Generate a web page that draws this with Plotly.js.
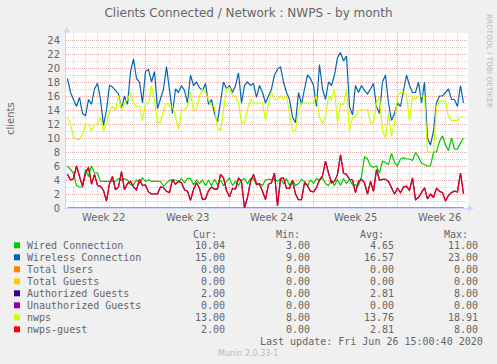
<!DOCTYPE html>
<html><head><meta charset="utf-8">
<script src="https://cdn.plot.ly/plotly-3.0.1.min.js"></script>
<style>html,body{margin:0;padding:0;background:#F0F0F0;}#chart{width:497px;height:364px;}</style>
</head><body><div id="chart"></div>
<script>
// ---- data (6-hour samples starting 2020-05-24 12:00) ----
const START_MS = Date.UTC(2020, 4, 24, 12, 0);
const STEP_MS = 6 * 3600 * 1000;

const wiredConnection = [
  6, 5.5, 5, 3.2, 3, 3, 5.5, 4.5, 6, 5,
  5, 3.8, 3.8, 3.8, 3.8, 3.8, 3.8, 4.2, 4, 4.2,
  4, 3.3, 3.3, 4, 3.5, 4.3, 3.8, 4, 3.8, 3.8,
  3.8, 3.8, 3.1, 3.5, 4, 4, 4, 3.8, 4.2, 3.6,
  4.2, 4.2, 3.3, 4, 3.5, 4, 3.2, 4, 3.2, 4.1,
  3.3, 4, 3.2, 3.8, 4.3, 3.2, 3.8, 3.2, 4, 4.2,
  3.5, 4.2, 4.2, 3.3, 3.5, 3.2, 4, 4.1, 4.1, 4.1,
  3.8, 4.2, 3.5, 4.2, 3.2, 4, 3.2, 3.5, 4.1, 3.8,
  3.2, 4, 3.5, 4.2, 4, 4.3, 3.5, 3.2, 4, 3.2,
  4.1, 3.2, 4.2, 3.5, 4.1, 3.3, 3.3, 3.2, 4.5, 7.3,
  7, 6, 5.8, 6, 5, 6.7, 6.5, 6.2, 7.8, 6.5,
  6, 7, 7.2, 7, 7, 6.8, 7.9, 7.3, 6.4, 6.2,
  6, 6, 8, 8, 9.5, 10.3, 9, 8.2, 10, 8.4,
  8.4, 9.3, 10
];
const wirelessConnection = [
  18.5, 16.5, 15.5, 14.5, 15.8, 13.5, 13.2, 15.5, 14.8, 17,
  17.8, 15.5, 11.8, 14, 17.5, 17.3, 16.8, 16.3, 14.2, 16,
  14.8, 19.5, 21.3, 18.5, 18, 15, 19.5, 19.8, 18, 19.5,
  14.2, 15.5, 17, 20.2, 16.5, 13.5, 17, 16.5, 17.5, 16.8,
  15, 19, 17.5, 18, 17.2, 16.8, 17.8, 14.8, 15.5, 13.5,
  12.3, 15.5, 18, 17, 17.5, 16.5, 17.5, 19.3, 15, 17.5,
  18, 17.5, 17.8, 15.8, 17.5, 16.5, 15, 16, 17, 19,
  19.8, 20.2, 18, 16.5, 15.5, 13, 12.2, 16.5, 14.8, 17,
  19, 18.5, 17.5, 14.5, 20.5, 17, 15.5, 18, 17.5, 19,
  21.5, 22.2, 21, 21.7, 14.5, 13.3, 17.5, 16.5, 17.5, 16.8,
  16.3, 17, 17.8, 14.5, 13.5, 18, 19, 15, 12.5, 13.5,
  15, 14.5, 17, 19, 17.5, 16.5, 16.5, 18, 15, 18,
  10, 9, 11, 15, 16, 16, 16.5, 17, 15.5, 15.5,
  14.5, 17.5, 15
];
const nwps = [
  13, 12, 10.2, 9.8, 9.8, 10.5, 12, 12, 11, 12,
  12, 13, 11, 12, 14, 14.5, 14, 16, 14, 15,
  15.5, 16.5, 15, 14.5, 14.5, 12.5, 15, 15, 17.5, 15.5,
  12.2, 12.2, 14, 15, 14.5, 14.5, 13, 11.2, 14, 14,
  14.5, 16.5, 14, 14.2, 16, 17, 16.5, 15.5, 14.5, 14.5,
  11.5, 11, 14, 17, 17.2, 16, 16, 15, 12.2, 12.2,
  14, 15.5, 15, 15, 15, 15, 12.5, 15, 16.5, 15.5,
  15.5, 16, 15.5, 16, 13.5, 11, 11, 14, 15, 15,
  15, 15, 15, 16, 13, 12, 13, 16, 15.5, 17,
  12.2, 14.8, 14.8, 17, 11, 13, 13, 14, 14, 14,
  14, 12.2, 12.2, 15, 16, 11, 10, 13.5, 10.2, 12,
  16, 16.5, 16.5, 16.2, 12.5, 15.8, 15.5, 16, 16, 16,
  8, 8, 8, 14.5, 15.3, 15.3, 15.3, 13, 12.5, 12.5,
  12.5, 13, 13
];
const nwpsGuest = [
  4.8, 4, 4.2, 6, 4.5, 3.1, 5, 5.8, 3.4, 4.8,
  3.2, 3.1, 2.5, 1, 3.5, 4.5, 2.6, 3, 5.2, 2.6,
  3.5, 3.8, 3, 2.6, 4.1, 3.2, 3.3, 2.3, 2, 2,
  2, 3, 2.9, 2.4, 2.2, 4.1, 3.4, 3.8, 3.6, 2.6,
  2.4, 1.1, 2.6, 3.6, 2.8, 1.2, 1.3, 2.5, 3, 2.7,
  2.7, 4.8, 4.3, 2.5, 1.6, 2.8, 2.7, 4.3, 3.8, 0,
  1.5, 3.8, 4.8, 3.4, 3.4, 2.4, 1.2, 3.4, 3.6, 5,
  0.3, 4.2, 4.3, 2.8, 2.8, 3.9, 2, 1.2, 1.2, 3.6,
  3.2, 2.4, 2.3, 2.9, 4, 4.6, 6.7, 5, 3.6, 3.8,
  4.8, 7.6, 5, 4.8, 4.1, 4, 2.2, 3.8, 4.1, 3.6,
  2, 3.8, 2.4, 5.5, 4, 4.1, 4.1, 3.8, 2.9, 2,
  2.8, 2.2, 3, 3.1, 2.5, 4.3, 1.2, 1.5, 2.2, 2.9,
  1.3, 2, 1.5, 2.8, 2.4, 2.2, 1, 1.8, 2.2, 2.4,
  2.3, 5, 2
];
const authorizedGuests = nwpsGuest;      // identical to nwps-guest (same stats)
const zeroSeries = [0, 0];               // Total Users, Total Guests, Unauthorized Guests

const seriesNames = ['Wired Connection', 'Wireless Connection', 'Total Users', 'Total Guests',
  'Authorized Guests', 'Unauthorized Guests', 'nwps', 'nwps-guest'];
const seriesColors = ['#00CC00', '#0066B3', '#FF8000', '#FFCC00', '#330099', '#990099', '#CCFF00', '#FF0000'];
const curValues = ['10.04', '15.00', '0.00', '0.00', '2.00', '0.00', '13.00', '2.00'];
const minValues = ['3.00', '9.00', '0.00', '0.00', '0.00', '0.00', '8.00', '0.00'];
const avgValues = ['4.65', '16.57', '0.00', '0.00', '2.81', '0.00', '13.76', '2.81'];
const maxValues = ['11.00', '23.00', '0.00', '0.00', '8.00', '0.00', '18.91', '8.00'];

const weekLabels = ['Week 22', 'Week 23', 'Week 24', 'Week 25', 'Week 26'];
const weekMid = ['2020-05-27 12:00', '2020-06-03 12:00', '2020-06-10 12:00', '2020-06-17 12:00', '2020-06-24 12:00'];
const weekStart = ['2020-05-31', '2020-06-07', '2020-06-14', '2020-06-21'];
const yTicks = [0, 2, 4, 6, 8, 10, 12, 14, 16, 18, 20, 22, 24];

const RANGE_X = [Date.UTC(2020, 4, 24, 9), Date.UTC(2020, 5, 26, 21)];
// ---- geometry helpers (pixels -> paper) ----
const PL = 66, PR = 468, PT = 33, PB = 208;
const px = x => (x - PL) / (PR - PL);
const py = y => (PB - y) / (PB - PT);

function times(arr) { return arr.map((_, i) => START_MS + i * STEP_MS); }
const zeroX = [START_MS, START_MS + (wiredConnection.length - 1) * STEP_MS];

function line(y, x, color, extra) {
  return Object.assign({ type: 'scatter', mode: 'lines', x: x, y: y,
    line: { color: color, width: 1.2 }, hoverinfo: 'skip', showlegend: false }, extra || {});
}

const traces = [
  line(wiredConnection, times(wiredConnection), seriesColors[0]),
  line(wirelessConnection, times(wirelessConnection), seriesColors[1]),
  line(zeroSeries, zeroX, seriesColors[2]),
  line(zeroSeries, zeroX, seriesColors[3]),
  line(authorizedGuests, times(authorizedGuests), seriesColors[4]),
  line(zeroSeries, zeroX, seriesColors[5], { opacity: 0.6 }),
  line(nwps, times(nwps), seriesColors[6]),
  line(nwpsGuest, times(nwpsGuest), seriesColors[7], { opacity: 0.88 })
];

const FONT = '#666666';
const mono = { family: 'DejaVu Sans Mono', size: 10, color: FONT };
const ann = [];
const shapes = [];
function txt(x, y, text, anchor, font, extra) {
  ann.push(Object.assign({ xref: 'paper', yref: 'paper', x: px(x), y: py(y), text: text,
    showarrow: false, xanchor: anchor, yanchor: 'middle', font: font, borderpad: 0, borderwidth: 0 }, extra || {}));
}
// week labels
weekLabels.forEach((w, i) => ann.push({ xref: 'x', yref: 'paper', x: weekMid[i], y: py(217), text: w,
  showarrow: false, xanchor: 'center', yanchor: 'middle', font: { family: 'DejaVu Sans', size: 10, color: FONT } }));
// y title
txt(10, 119, 'clients', 'center', { family: 'DejaVu Sans', size: 10, color: FONT }, { textangle: -90 });
// watermark right
txt(490, 61, 'RRDTOOL / TOBI OETIKER', 'center', { family: 'DejaVu Sans', size: 7.3, color: '#BBBBBB' }, { textangle: 90 });
// legend header
txt(217, 234, 'Cur:', 'right', mono);
txt(300, 234, 'Min:', 'right', mono);
txt(384, 234, 'Avg:', 'right', mono);
txt(468, 234, 'Max:', 'right', mono);
seriesNames.forEach((n, i) => {
  const yy = 245.3 + 12 * i;
  shapes.push({ type: 'rect', xref: 'paper', yref: 'paper', x0: px(14), x1: px(20), y0: py(yy + 3), y1: py(yy - 3),
    fillcolor: seriesColors[i], line: { width: 0 } });
  txt(26.5, yy, n, 'left', mono);
  txt(224.5, yy, curValues[i], 'right', mono);
  txt(309.5, yy, minValues[i], 'right', mono);
  txt(393.5, yy, avgValues[i], 'right', mono);
  txt(477.5, yy, maxValues[i], 'right', mono);
});
txt(483, 341, 'Last update: Fri Jun 26 15:00:40 2020', 'right', mono);
txt(248, 353, 'Munin 2.0.33-1', 'center', { family: 'DejaVu Sans', size: 8, color: '#BBBBBB' });

// axis arrows
const AX = '#CFD6F8';
shapes.push({ type: 'path', xref: 'paper', yref: 'paper', fillcolor: AX, line: { width: 0 },
  path: `M ${px(63.5)} ${py(32.5)} L ${px(70)} ${py(32.5)} L ${px(66.7)} ${py(26.5)} Z` });
shapes.push({ type: 'path', xref: 'paper', yref: 'paper', fillcolor: AX, line: { width: 0 },
  path: `M ${px(468)} ${py(205)} L ${px(468)} ${py(211.5)} L ${px(474)} ${py(208.2)} Z` });

const MAJ = 'rgba(255,110,110,0.45)';
const MIN = 'rgba(160,160,160,0.42)';
const layout = {
  width: 497, height: 364,
  margin: { l: PL, r: 497 - PR, t: PT, b: 364 - PB },
  paper_bgcolor: '#F0F0F0', plot_bgcolor: '#FFFFFF',
  title: { text: 'Clients Connected / Network : NWPS - by month', x: 0.5, xref: 'container', xanchor: 'center',
    y: 1 - 13 / 364, yref: 'container', yanchor: 'middle', font: { family: 'DejaVu Sans', size: 12, color: FONT } },
  xaxis: {
    type: 'date', range: RANGE_X, tickmode: 'array', tickvals: weekStart, showticklabels: false, ticks: '',
    showgrid: true, gridcolor: MAJ, griddash: '1px,1px', gridwidth: 1,
    minor: { tickmode: 'linear', tick0: '2020-05-25', dtick: 86400000, showgrid: true,
      gridcolor: MIN, griddash: '1px,1px', gridwidth: 1, ticks: '' },
    showline: true, linecolor: AX, linewidth: 1, zeroline: false, fixedrange: true
  },
  yaxis: {
    range: [0, 25], tickmode: 'array', tickvals: yTicks, ticks: 'outside', ticklen: 3, tickcolor: 'rgba(0,0,0,0)',
    tickfont: { family: 'DejaVu Sans', size: 10, color: FONT },
    showgrid: true, gridcolor: MAJ, griddash: '1px,1px', gridwidth: 1,
    minor: { tickmode: 'linear', tick0: 0, dtick: 1, showgrid: true, gridcolor: MIN,
      griddash: '1px,1px', gridwidth: 1, ticks: '' },
    showline: true, linecolor: AX, linewidth: 1, zeroline: false, fixedrange: true
  },
  annotations: ann, shapes: shapes, showlegend: false
};

Plotly.newPlot('chart', traces, layout, { displayModeBar: false, staticPlot: true });
</script></body></html>
